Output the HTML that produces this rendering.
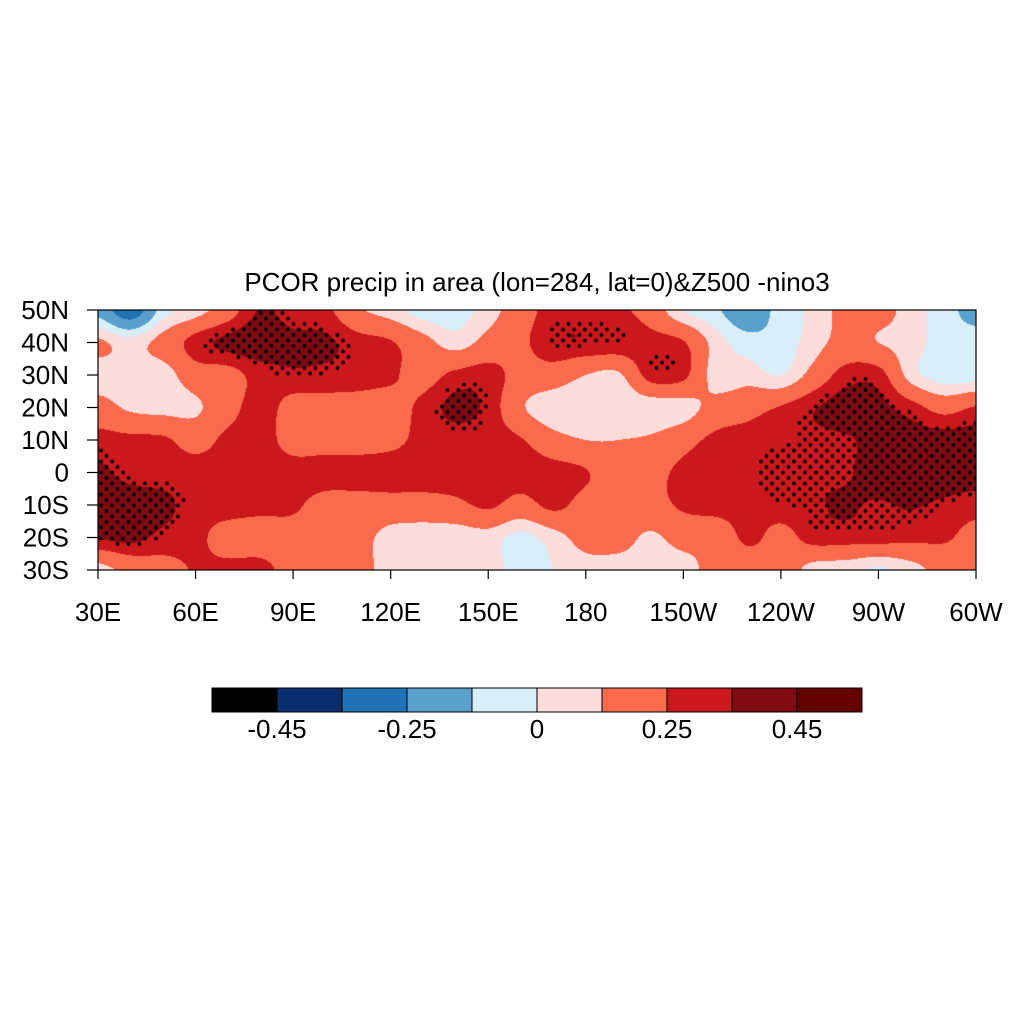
<!DOCTYPE html>
<html><head><meta charset="utf-8">
<style>
body{margin:0;background:#fff;width:1024px;height:1024px;position:relative;overflow:hidden;font-family:"Liberation Sans",sans-serif;}
.t{position:absolute;font-size:26px;color:#000;white-space:nowrap;}
</style></head>
<body>
<div class="t" style="left:0;width:1074px;text-align:center;top:267px;">PCOR precip in area (lon=284, lat=0)&amp;Z500 -nino3</div>
<canvas id="map" width="878" height="260" style="position:absolute;left:98px;top:310px;"></canvas>
<svg id="ax" width="1024" height="1024" style="position:absolute;left:0;top:0;"></svg>
<script>
const lons=[30,40,50,60,70,80,90,100,110,120,130,140,150,160,170,180,190,200,210,220,230,240,250,260,270,280,290,300];
const lats=[50,40,30,20,10,0,-10,-20,-30];
const row50=[-0.15,-0.35,-0.05,0.05,0.18,0.36,0.3,0.28,0.12,0.05,-0.05,-0.05,0.05,0.18,0.3,0.3,0.28,0.18,0.0,-0.08,-0.2,-0.05,0.02,0.15,0.15,0.05,-0.05,-0.15];
const row40=[0.12,0.05,0.15,0.3,0.38,0.42,0.38,0.37,0.3,0.26,0.15,0.05,0.15,0.22,0.33,0.34,0.33,0.3,0.26,0.05,-0.05,-0.05,0.05,0.15,0.1,0.05,-0.05,-0.05];
const row30=[0.05,0.05,0.05,0.18,0.2,0.3,0.33,0.32,0.3,0.27,0.2,0.28,0.3,0.2,0.18,0.1,0.08,0.3,0.28,0.05,0.05,0.0,0.15,0.3,0.3,0.05,-0.05,-0.05];
const row20=[0.15,0.08,0.06,0.08,0.2,0.3,0.2,0.2,0.2,0.2,0.28,0.38,0.32,0.12,0.03,0.02,0.02,0.03,0.05,0.15,0.2,0.26,0.34,0.4,0.38,0.3,0.2,0.26];
const row10=[0.3,0.28,0.27,0.2,0.28,0.3,0.2,0.2,0.2,0.22,0.28,0.3,0.3,0.26,0.15,0.1,0.1,0.12,0.2,0.28,0.3,0.32,0.33,0.34,0.38,0.4,0.4,0.4];
const row0=[0.37,0.32,0.3,0.3,0.3,0.32,0.3,0.3,0.3,0.3,0.3,0.3,0.3,0.3,0.3,0.26,0.15,0.2,0.28,0.3,0.32,0.34,0.34,0.34,0.4,0.42,0.42,0.4];
const rowS10=[0.4,0.4,0.38,0.3,0.3,0.28,0.27,0.2,0.2,0.2,0.2,0.22,0.27,0.2,0.28,0.2,0.18,0.2,0.27,0.3,0.3,0.32,0.34,0.36,0.34,0.36,0.33,0.3];
const rowS20=[0.36,0.38,0.32,0.28,0.2,0.2,0.2,0.15,0.15,0.05,0.03,0.03,0.05,-0.03,0.05,0.15,0.15,0.08,0.15,0.15,0.28,0.2,0.3,0.3,0.3,0.28,0.27,0.2];
const rowS30=[0.05,0.15,0.2,0.26,0.28,0.28,0.2,0.15,0.15,0.05,0.05,0.03,0.05,-0.05,0.0,0.05,0.05,0.05,0.05,0.15,0.15,0.18,0.05,0.03,-0.02,0.05,0.15,0.2];
const levels=[-0.45,-0.35,-0.25,-0.1,0,0.1,0.25,0.35,0.45];
const colors=["#000000","#0a2d6e","#2171b5","#5aa0cd","#d8eff9","#fddcdc","#fa6a4c","#cb181d","#7e0b12","#650000"];
const cbLabels=["-0.45","-0.25","0","0.25","0.45"];
const cbLabelIdx=[0,2,4,6,8];
const sigThreshold=0.325;

const grid=[row50,row40,row30,row20,row10,row0,rowS10,rowS20,rowS30];
const X0=98,X1=976,Y0=310,Y1=570;
function xOf(lon){return X0+(lon-30)/(300-30)*(X1-X0);}
function yOf(lat){return Y0+(50-lat)/(50+30)*(Y1-Y0);}
function cr(p0,p1,p2,p3,t){return 0.5*((2*p1)+(-p0+p2)*t+(2*p0-5*p1+4*p2-p3)*t*t+(-p0+3*p1-3*p2+p3)*t*t*t);}
function g(i,j){i=Math.max(0,Math.min(lats.length-1,i));j=Math.max(0,Math.min(lons.length-1,j));return grid[i][j];}
function val(lon,lat){
  const fx=(lon-lons[0])/10, fy=(lats[0]-lat)/10;
  const j=Math.floor(fx), i=Math.floor(fy), tx=fx-j, ty=fy-i;
  const r=[];
  for(let k=-1;k<=2;k++) r.push(cr(g(i+k,j-1),g(i+k,j),g(i+k,j+1),g(i+k,j+2),tx));
  return cr(r[0],r[1],r[2],r[3],ty);
}
function colIdx(v){let k=0;while(k<levels.length&&v>=levels[k])k++;return k;}
function hex(c){return [parseInt(c.slice(1,3),16),parseInt(c.slice(3,5),16),parseInt(c.slice(5,7),16)];}
const rgb=colors.map(hex);
const cv=document.getElementById('map'),ctx=cv.getContext('2d');
const W=cv.width,H=cv.height,img=ctx.createImageData(W,H);
for(let y=0;y<H;y++)for(let x=0;x<W;x++){
  const lon=30+(x+0.5)/W*270, lat=50-(y+0.5)/H*80;
  const c=rgb[colIdx(val(lon,lat))];const o=(y*W+x)*4;
  img.data[o]=c[0];img.data[o+1]=c[1];img.data[o+2]=c[2];img.data[o+3]=255;
}
ctx.putImageData(img,0,0);
// stippling
ctx.fillStyle="#000";
for(let r=0,y=3;y<H;y+=5.5,r++)for(let x=(r%2?3:8.5);x<W;x+=11){
  const lon=30+x/W*270, lat=50-y/H*80;
  if(val(lon,lat)>=sigThreshold){ctx.beginPath();ctx.arc(x,y,1.9,0,7);ctx.fill();}
}
const NS="http://www.w3.org/2000/svg",svg=document.getElementById('ax');
function el(tag,attrs,parent){const e=document.createElementNS(NS,tag);for(const k in attrs)e.setAttribute(k,attrs[k]);(parent||svg).appendChild(e);return e;}
const frame=el('rect',{x:X0,y:Y0,width:X1-X0,height:Y1-Y0,fill:'none',stroke:'#000','stroke-width':1.2});


const xt=[30,60,90,120,150,180,210,240,270,300];
const xl=["30E","60E","90E","120E","150E","180","150W","120W","90W","60W"];
xt.forEach((lon,k)=>{
  const x=xOf(lon);
  const tk=el('line',{x1:x,x2:x,y1:Y1,y2:Y1+9,stroke:'#000','stroke-width':1.2});
  
  
  const t=el('text',{x:x,y:621,'text-anchor':'middle','font-size':26,'font-family':'Liberation Sans, sans-serif'});
  t.textContent=xl[k];
  
  
});
const yt=[50,40,30,20,10,0,-10,-20,-30];
const yl=["50N","40N","30N","20N","10N","0","10S","20S","30S"];
yt.forEach((lat,k)=>{
  const y=yOf(lat);
  const tk=el('line',{x1:X0-11,x2:X0,y1:y,y2:y,stroke:'#000','stroke-width':1.2});
  
  
  const t=el('text',{x:69,y:y+9,'text-anchor':'end','font-size':26,'font-family':'Liberation Sans, sans-serif'});
  t.textContent=yl[k];
  
  
});
// colorbar
const CB0=212,CBW=65,CBY=688,CBH=24;
colors.forEach((c,k)=>{
  const r=el('rect',{x:CB0+k*CBW,y:CBY,width:CBW,height:CBH,fill:c,stroke:'#000','stroke-width':1});
  
  
});
cbLabels.forEach((s,k)=>{
  const t=el('text',{x:CB0+(cbLabelIdx[k]+1)*CBW,y:738,'text-anchor':'middle','font-size':26,'font-family':'Liberation Sans, sans-serif'});
  t.textContent=s;
  
  
});
</script>
</body></html>
